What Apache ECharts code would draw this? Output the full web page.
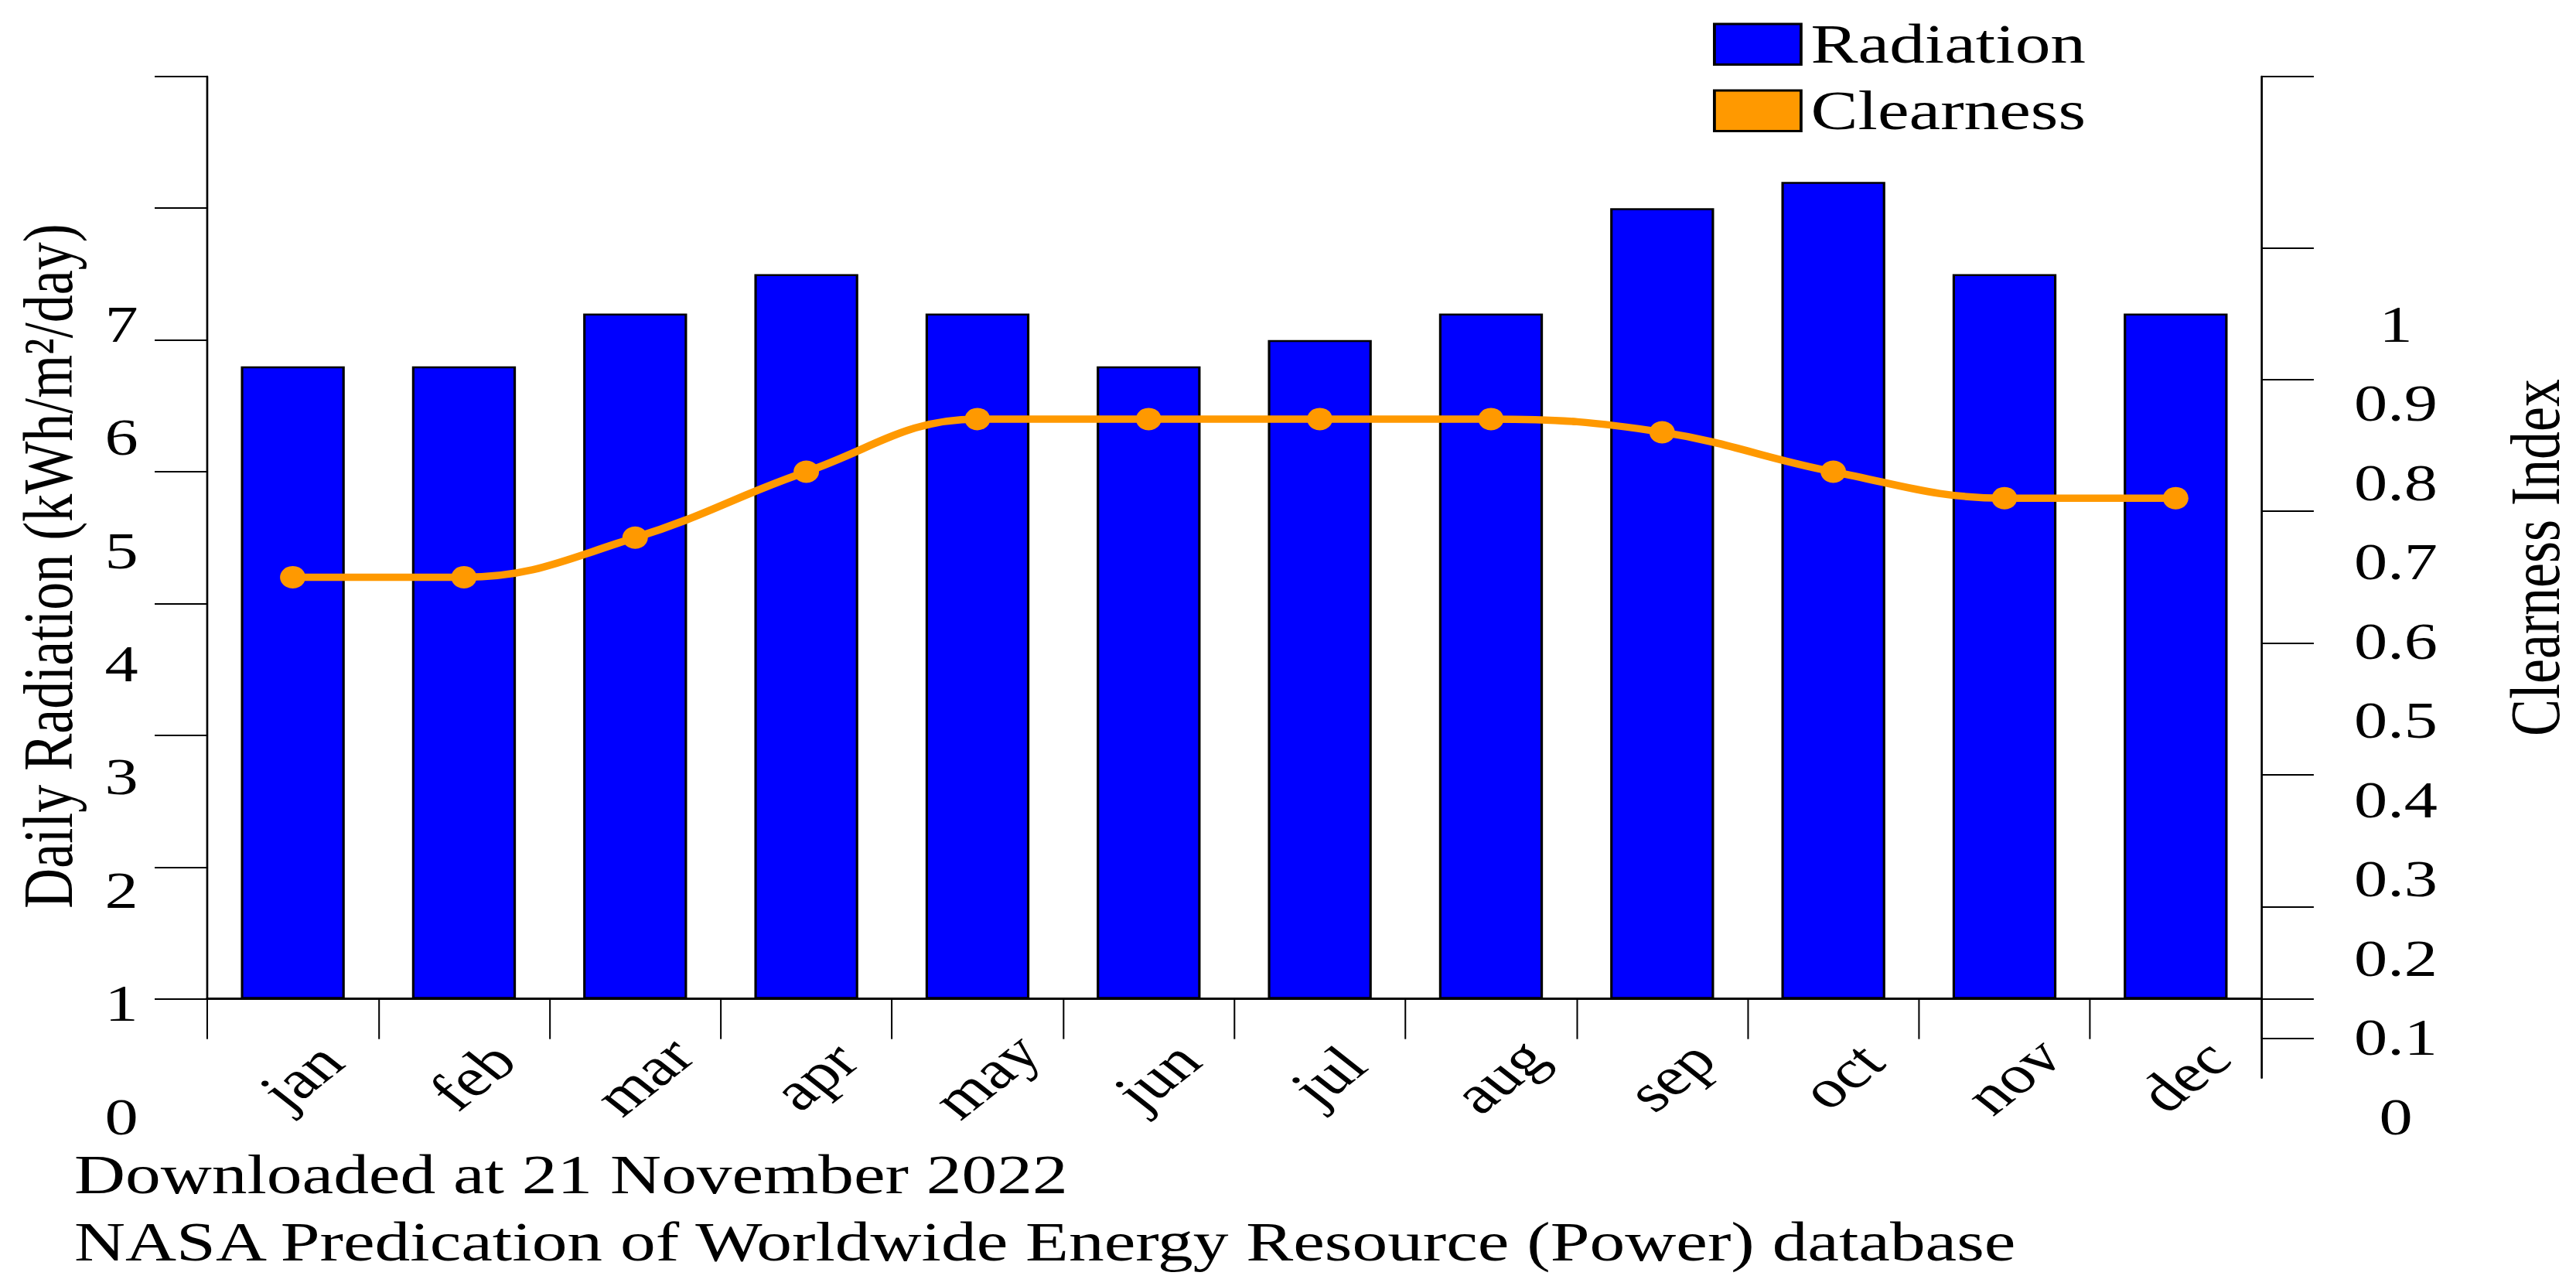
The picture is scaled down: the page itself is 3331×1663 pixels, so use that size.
<!DOCTYPE html>
<html>
<head>
<meta charset="utf-8">
<script src="https://cdn.jsdelivr.net/npm/echarts@6/dist/echarts.min.js"></script>
<style>
html,body{margin:0;padding:0;background:#fff;overflow:hidden;width:3331px;height:1663px;}
/* the reference figure is horizontally stretched; draw at a narrower width and stretch the vector output */
#chart{width:2623px;height:1663px;transform:scaleX(1.26992);transform-origin:0 0;}
</style>
</head>
<body>
<div id="chart"></div>
<script>
// ---------- data ----------
const months = ['jan','feb','mar','apr','may','jun','jul','aug','sep','oct','nov','dec'];
const radiation = [4.8, 4.8, 5.2, 5.5, 5.2, 4.8, 5.0, 5.2, 6.0, 6.2, 5.5, 5.2];
const clearness = [0.65, 0.65, 0.68, 0.73, 0.77, 0.77, 0.77, 0.77, 0.76, 0.73, 0.71, 0.71];
const leftTickLabels = ['0','1','2','3','4','5','6','7'];
const rightTickLabels = ['0','0.1','0.2','0.3','0.4','0.5','0.6','0.7','0.8','0.9','1'];
const clearnessTickValues = [0.3, 0.4, 0.5, 0.6, 0.7, 0.8, 0.9, 1.03];
const radiationMin = 0, radiationMax = 7;
const clearnessMin = 0.27, clearnessMax = 1.03;
const legendNames = ['Radiation', 'Clearness'];
const leftTitle = 'Daily Radiation (kWh/m\u00B2/day)';
const rightTitle = 'Clearness Index';
const footer1 = 'Downloaded at 21 November 2022';
const footer2 = 'NASA Predication of Worldwide Energy Resource (Power) database';

// ---------- layout / style ----------
const FONT = 'Liberation Serif';
const BLUE = '#0000FF', ORANGE = '#FF9900', BLACK = '#000000';
const GL = 211.0, GR = 320.5;

const chart = echarts.init(document.getElementById('chart'), null, {renderer: 'svg'});

const option = {
  animation: false,
  backgroundColor: '#ffffff',
  title: [
    {text: footer1, left: 75.6, top: 1483, padding: 0,
     textStyle: {fontFamily: FONT, fontSize: 72, fontWeight: 'normal', color: BLACK, lineHeight: 72}},
    {text: footer2, left: 75.6, top: 1570, padding: 0,
     textStyle: {fontFamily: FONT, fontSize: 72, fontWeight: 'normal', color: BLACK, lineHeight: 72}}
  ],
  legend: {
    orient: 'vertical', left: 1744.2, top: 21.3, padding: 0,
    itemWidth: 88.2, itemHeight: 52.6, itemGap: 13.9,
    icon: 'rect', selectedMode: false,
    data: [
      {name: legendNames[0], itemStyle: {color: BLUE, borderColor: BLACK, borderWidth: 3}},
      {name: legendNames[1], itemStyle: {color: ORANGE, borderColor: BLACK, borderWidth: 3}}
    ],
    textStyle: {fontFamily: FONT, fontSize: 72, color: BLACK, padding: [0, 0, 0, 5]}
  },
  grid: [
    {left: GL, right: GR, top: 98.8, bottom: 371.3},
    {left: GL, right: GR, top: 98.8, bottom: 269},
    {left: GL, right: GR, top: 419, bottom: 219}
  ],
  xAxis: [
    {gridIndex: 0, type: 'category', data: months,
     axisLine: {show: true, lineStyle: {color: BLACK, width: 3}},
     axisTick: {show: true, interval: 0, length: 52, lineStyle: {color: BLACK, width: 1.6}},
     axisLabel: {interval: 0, rotate: 45, align: 'center', verticalAlign: 'middle', margin: 108,
                 padding: [0, 0, 0, 24],
                 fontFamily: FONT, fontSize: 70, color: BLACK},
     splitLine: {show: false}},
    {gridIndex: 1, type: 'category', data: months, show: false},
    {gridIndex: 2, type: 'category', data: months, show: false}
  ],
  yAxis: [
    {gridIndex: 0, type: 'value', position: 'left', min: radiationMin, max: radiationMax, interval: 1,
     axisLine: {show: true, lineStyle: {color: BLACK, width: 2.1}},
     axisTick: {show: true, length: 53.5, lineStyle: {color: BLACK, width: 2}},
     axisLabel: {show: false}, splitLine: {show: false}},
    {gridIndex: 0, type: 'value', position: 'right', min: radiationMin, max: radiationMax,
     axisLine: {show: false},
     axisTick: {show: true, length: 53.5, customValues: [radiationMin], lineStyle: {color: BLACK, width: 2}},
     axisLabel: {show: false}, splitLine: {show: false}},
    {gridIndex: 1, type: 'value', position: 'right', min: clearnessMin, max: clearnessMax,
     axisLine: {show: true, lineStyle: {color: BLACK, width: 2.1}},
     axisTick: {show: true, length: 53.5, customValues: clearnessTickValues, lineStyle: {color: BLACK, width: 2}},
     axisLabel: {show: false}, splitLine: {show: false}},
    {gridIndex: 2, type: 'value', position: 'left', min: 0, max: leftTickLabels.length - 1, interval: 1,
     axisLine: {show: false}, axisTick: {show: false}, splitLine: {show: false},
     axisLabel: {show: true, align: 'center', margin: 87.4, fontFamily: FONT, fontSize: 68, color: BLACK,
                 formatter: v => leftTickLabels[Math.round(v)]}},
    {gridIndex: 2, type: 'value', position: 'right', min: 0, max: 1, interval: 0.1,
     axisLine: {show: false}, axisTick: {show: false}, splitLine: {show: false},
     axisLabel: {show: true, align: 'center', margin: 137, fontFamily: FONT, fontSize: 68, color: BLACK,
                 formatter: v => rightTickLabels[Math.round(v * 10)]}}
  ],
  graphic: [
    {type: 'text', x: 48.8, y: 732, rotation: Math.PI / 2,
     style: {text: leftTitle, fontFamily: FONT, fontSize: 72, fill: BLACK,
             align: 'center', verticalAlign: 'middle', textAlign: 'center', textVerticalAlign: 'middle'}},
    {type: 'text', x: 2582, y: 721, rotation: Math.PI / 2,
     style: {text: rightTitle, fontFamily: FONT, fontSize: 72, fill: BLACK,
             align: 'center', verticalAlign: 'middle', textAlign: 'center', textVerticalAlign: 'middle'}}
  ],
  series: [
    {name: legendNames[0], type: 'bar', xAxisIndex: 0, yAxisIndex: 0, data: radiation,
     barWidth: '60.7%',
     itemStyle: {color: BLUE, borderColor: BLACK, borderWidth: 2.5}},
    {name: legendNames[1], type: 'line', xAxisIndex: 1, yAxisIndex: 2, data: clearness,
     smooth: 0.4, symbol: 'circle', symbolSize: [26, 29], z: 5,
     lineStyle: {color: ORANGE, width: 9.5},
     itemStyle: {color: ORANGE, borderWidth: 0}}
  ]
};
chart.setOption(option);
</script>
</body>
</html>
